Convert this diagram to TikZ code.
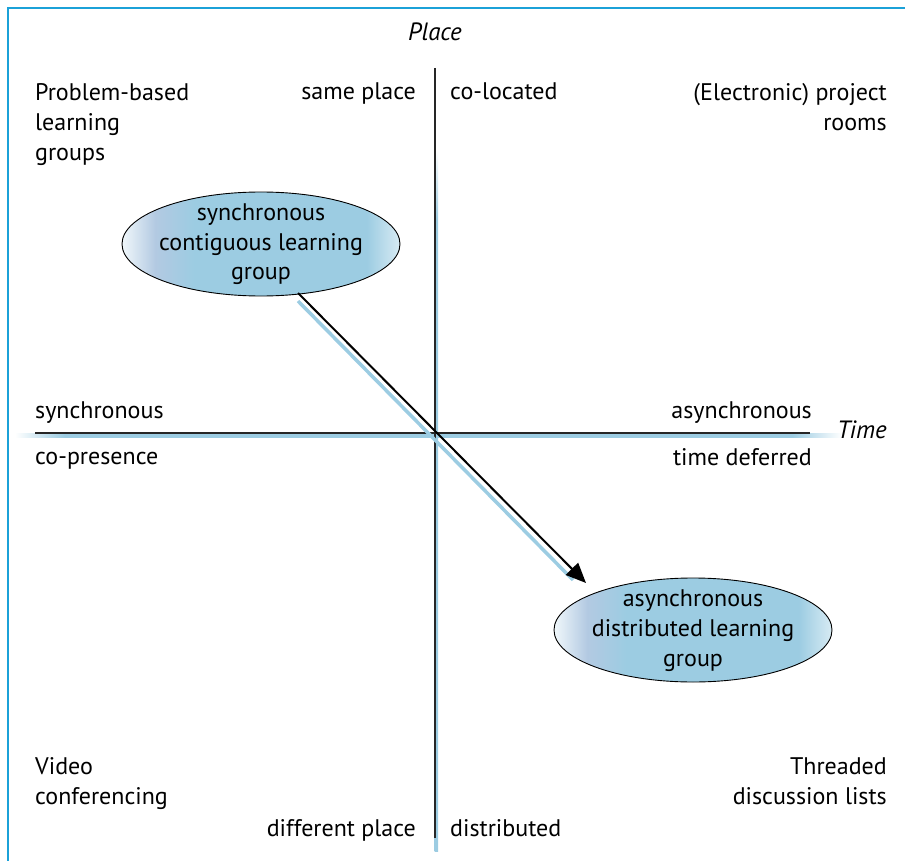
\documentclass[tikz,border=0pt]{standalone}
\usepackage{fontspec}
\setmainfont{PT Sans}
\usetikzlibrary{shapes.geometric,arrows.meta}
\definecolor{frame}{HTML}{1BA1D8}
\definecolor{shadow}{HTML}{9CCCE2}
\pgfdeclarehorizontalshading{ellshade}{100bp}{color(0bp)=(white!85!shadow); color(25bp)=(white!85!shadow); color(31bp)=(shadow!90!violet!75!white); color(38bp)=(shadow); color(69bp)=(shadow); color(75bp)=(shadow!40!white); color(100bp)=(shadow!40!white)}
\pgfdeclarehorizontalshading{hshadow}{100bp}{color(0bp)=(white); color(25bp)=(white); color(28bp)=(shadow); color(72bp)=(shadow); color(75bp)=(white); color(100bp)=(white)}
\pgfdeclareverticalshading{vshadow}{100bp}{color(0bp)=(shadow); color(25bp)=(shadow); color(70bp)=(shadow); color(75bp)=(white); color(100bp)=(white)}
\newcommand{\grptext}[1]{\raisebox{-3pt}{\begin{tabular}{@{}c@{}}#1\end{tabular}}}
\tikzset{
  lbl/.style={font=\fontsize{24}{30}\selectfont, inner sep=0pt, align=left},
  lblr/.style={lbl, align=right},
  axislbl/.style={font=\fontsize{25}{30}\selectfont\itshape, inner sep=0pt},
  grp/.style={ellipse, draw=black, line width=0.9pt, shading=ellshade, minimum width=278pt, minimum height=104pt, inner xsep=-8pt, inner ysep=-10pt, font=\fontsize{24}{30}\selectfont},
  axis/.style={line width=1.2pt, draw=black!85},
}
\begin{document}
\begin{tikzpicture}[x=1pt,y=-1pt]
\useasboundingbox (0,0) rectangle (905,861);
% frame
\draw[frame, line width=2pt] (8,861) -- (8,8) -- (905,8);
% axis shadows
\shade[shading=hshadow] (15,433.5) rectangle (842,437);
\shade[shading=vshadow] (434.5,150) rectangle (438,851);
% axes
\coordinate (vtop) at (435,68);
\coordinate (vbot) at (435,838);
\coordinate (hl) at (35,433);
\coordinate (hr) at (810,433);
\draw[axis] (vtop) -- (vbot);
\draw[axis] (hl) -- (hr);
% labels
\node[axislbl] (place) at (435,32) {Place};
\node[axislbl, anchor=west] (time) at (837,430) {Time};
\node[lbl, anchor=north west] (pbl) at (35,83) {Problem-based\\learning\\groups};
\node[lblr, anchor=north east] (same) at (416,83) {same place};
\node[lbl, anchor=north west] (coloc) at (450,83) {co-located};
\node[lblr, anchor=north east] (proj) at (887,83) {(Electronic) project\\rooms};
\node[lbl, anchor=north west] (sync) at (35,401) {synchronous};
\node[lbl, anchor=north west] (copres) at (35,452) {co-presence};
\node[lblr, anchor=north east] (async) at (812,401) {asynchronous};
\node[lblr, anchor=north east] (tdef) at (812,448) {time deferred};
\node[lbl, anchor=north west] (video) at (35,757) {Video\\conferencing};
\node[lblr, anchor=north east] (thread) at (887,757) {Threaded\\discussion lists};
\node[lblr, anchor=north east] (diff) at (416,819) {different place};
\node[lbl, anchor=north west] (dist) at (450,819) {distributed};
% groups
\node[grp] (g1) at (261,244) {\grptext{synchronous\\contiguous learning\\group}};
\node[grp] (g2) at (693,630) {\grptext{asynchronous\\distributed learning\\group}};
% arrow
\coordinate (a1) at (298,293);
\coordinate (a2) at (586,583);
\coordinate (s1) at (298,301);
\coordinate (s2) at (573,580);
\draw[shadow, line width=3.5pt] (s1) -- (s2);
\draw[line width=2pt, -{Triangle[length=20pt,width=17pt]}] (a1) -- (a2);
\end{tikzpicture}
\end{document}
